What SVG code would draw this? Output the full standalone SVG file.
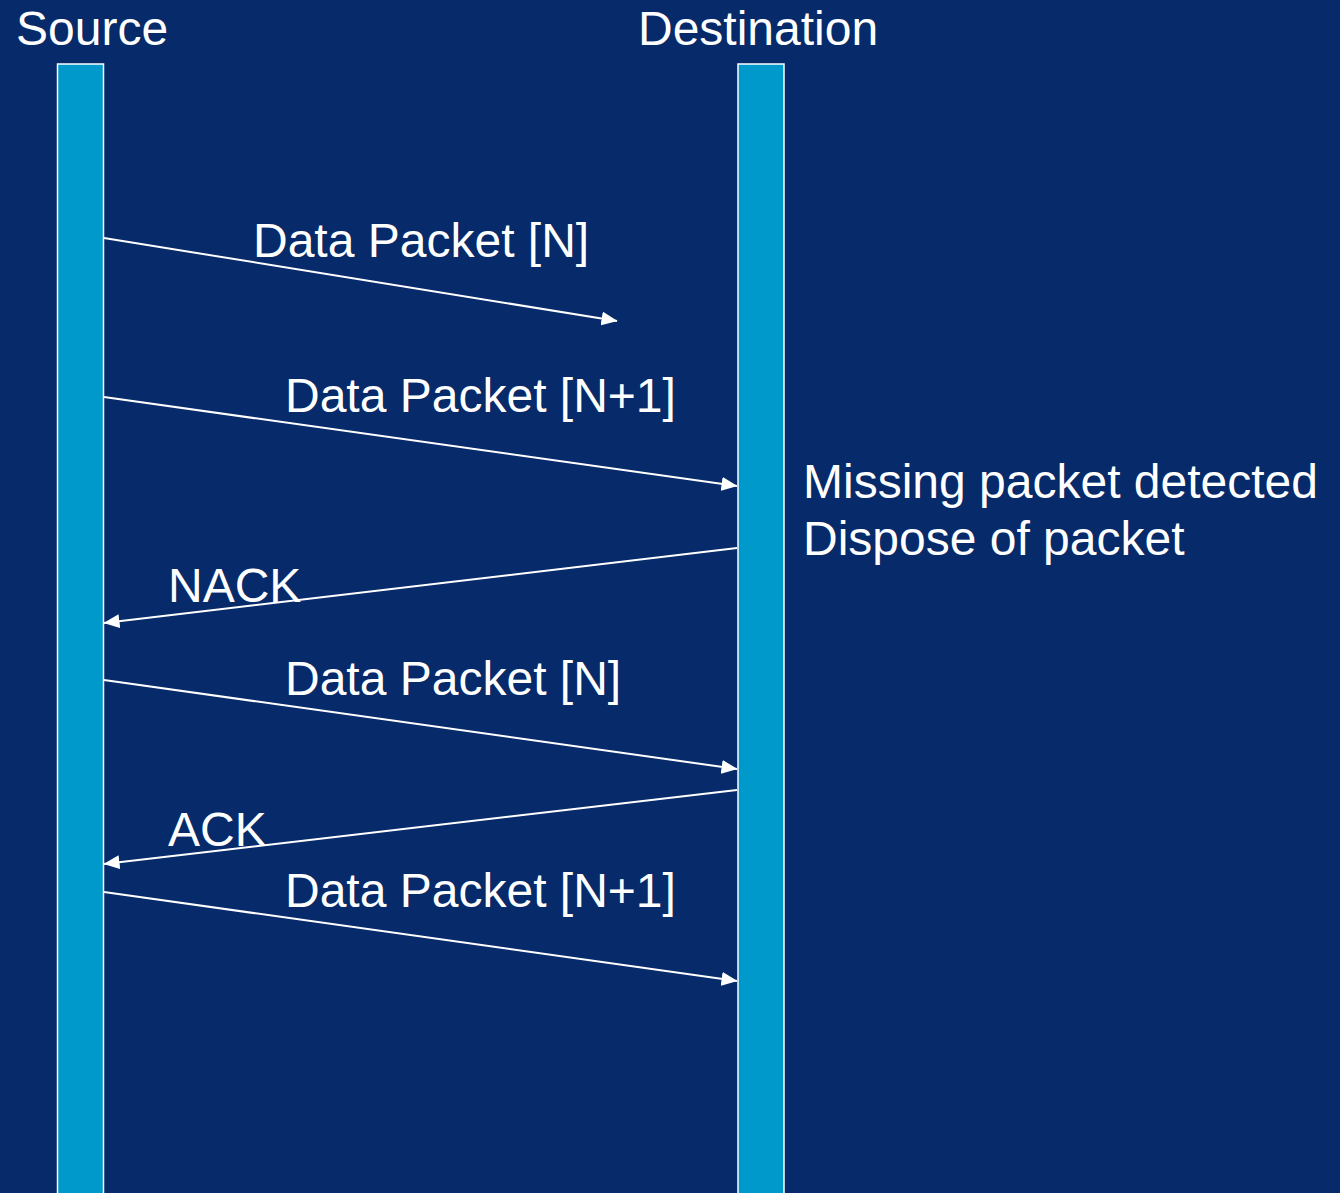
<svg xmlns="http://www.w3.org/2000/svg" width="1340" height="1193" viewBox="0 0 1340 1193">
<defs>
<style>
.lbl{font-family:"Liberation Sans",Arial,sans-serif;font-size:48px;fill:#ffffff}
.bar{fill:#0099cc;stroke:#ffffff;stroke-width:1.5}
.msg{stroke:#ffffff;stroke-width:2;fill:none;marker-end:url(#ah)}
</style>
<marker id="ah" viewBox="0 0 16 14" refX="15.5" refY="7" markerWidth="16" markerHeight="14" markerUnits="userSpaceOnUse" orient="auto">
<path d="M0,0 L16,7 L0,14 Z" fill="#ffffff"/>
</marker>
</defs>
<rect width="1340" height="1193" fill="#062a6a"/>
<g id="source">
<rect class="bar" x="57.5" y="64" width="46" height="1140"/>
<text class="lbl" x="16" y="45">Source</text>
</g>
<g id="destination">
<rect class="bar" x="738" y="64" width="46" height="1140"/>
<text class="lbl" x="638" y="45">Destination</text>
</g>
<g id="note">
<text class="lbl" x="803" y="498">Missing packet detected</text>
<text class="lbl" x="803" y="555">Dispose of packet</text>
</g>
<g id="connectors">
<line class="msg" x1="104" y1="238" x2="617" y2="321"/>
<line class="msg" x1="104" y1="397" x2="737" y2="486"/>
<line class="msg" x1="737" y1="548" x2="104" y2="623"/>
<line class="msg" x1="104" y1="680" x2="737" y2="769"/>
<line class="msg" x1="737" y1="790" x2="104" y2="864"/>
<line class="msg" x1="104" y1="892" x2="737" y2="981"/>
</g>
<g id="labels">
<text class="lbl" x="253" y="257">Data Packet [N]</text>
<text class="lbl" x="285" y="412">Data Packet [N+1]</text>
<text class="lbl" x="168" y="602">NACK</text>
<text class="lbl" x="285" y="695">Data Packet [N]</text>
<text class="lbl" x="168" y="846">ACK</text>
<text class="lbl" x="285" y="907">Data Packet [N+1]</text>
</g>
</svg>
